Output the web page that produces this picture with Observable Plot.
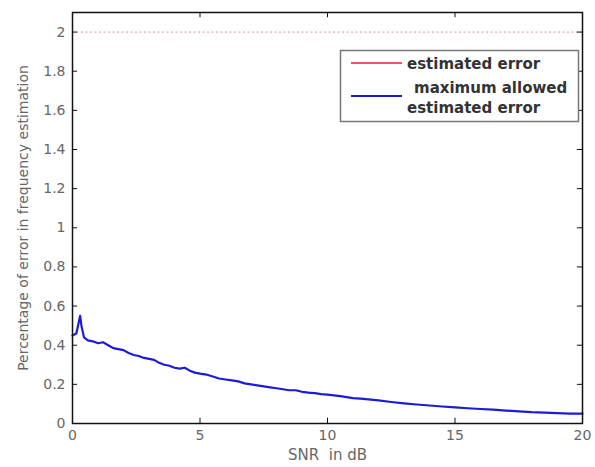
<!DOCTYPE html>
<html><head><meta charset="utf-8">
<script src="https://cdn.jsdelivr.net/npm/d3@7"></script>
<script src="https://cdn.jsdelivr.net/npm/@observablehq/plot@0.6"></script>
<style>body{margin:0;background:#fff}</style>
</head><body><div id="chart"></div>
<script>
const snr = [0,0.15,0.25,0.3,0.35,0.45,0.6,0.8,1.0,1.2,1.4,1.6,1.8,2.0,2.2,2.4,2.6,2.8,3.0,3.2,3.4,3.6,3.8,4.0,4.2,4.4,4.6,4.8,5.0,5.25,5.5,5.75,6.0,6.25,6.5,6.75,7.0,7.25,7.5,7.75,8.0,8.25,8.5,8.75,9.0,9.25,9.5,9.75,10.0,10.5,11.0,11.3,11.5,12.0,12.5,13.0,13.5,14.0,14.5,15.0,15.5,16.0,16.5,17.0,17.5,18.0,18.5,19.0,19.5,20.0];
const err = [0.45,0.46,0.52,0.55,0.50,0.44,0.425,0.42,0.41,0.415,0.40,0.385,0.38,0.375,0.36,0.35,0.345,0.335,0.33,0.325,0.31,0.30,0.295,0.285,0.28,0.285,0.27,0.26,0.255,0.25,0.24,0.23,0.225,0.22,0.215,0.205,0.20,0.195,0.19,0.185,0.18,0.175,0.17,0.17,0.162,0.158,0.155,0.15,0.148,0.14,0.13,0.127,0.125,0.118,0.11,0.103,0.097,0.092,0.087,0.082,0.078,0.074,0.071,0.066,0.062,0.058,0.056,0.053,0.05,0.05];
const maxAllowed = 2;
const xTicks = [0,5,10,15,20];
const yTicks = [0,0.2,0.4,0.6,0.8,1,1.2,1.4,1.6,1.8,2];
const xLabel = "SNR  in dB";
const yLabel = "Percentage of error in frequency estimation";
const legendLabels = ["estimated error", "maximum allowed", "estimated error"];

const data = snr.map((s,i)=>({snr:s, err:err[i]}));
const tickLenX = 0.2, tickLenY = 0.027;
const font = "DejaVu Sans, sans-serif";

const plot = Plot.plot({
  width: 595, height: 467,
  marginLeft: 72, marginRight: 13, marginTop: 12, marginBottom: 44,
  style: {fontFamily: font, fontSize: "14px", color: "#555", background: "#fff"},
  x: {domain: [0,20], axis: null},
  y: {domain: [0,2.1], axis: null},
  marks: [
    Plot.ruleY([maxAllowed], {stroke: "#e8707c", strokeWidth: 1, strokeDasharray: "2,2.5", strokeOpacity: 0.8}),
    Plot.line(data, {x: "snr", y: "err", stroke: "#1c1cd8", strokeWidth: 2.2}),
    Plot.ruleX(xTicks.slice(1,-1), {x: d=>d, y1: 0, y2: tickLenY, stroke: "#111"}),
    Plot.ruleX(xTicks.slice(1,-1), {x: d=>d, y1: 2.1, y2: 2.1-tickLenY, stroke: "#111"}),
    Plot.ruleY(yTicks.slice(1), {y: d=>d, x1: 0, x2: tickLenX, stroke: "#111"}),
    Plot.ruleY(yTicks.slice(1), {y: d=>d, x1: 20, x2: 20-tickLenX, stroke: "#111"}),
    Plot.frame({stroke: "#111", strokeWidth: 1.5}),
    Plot.axisX(xTicks, {tickSize: 0, tickPadding: 7, fontSize: 14, fill: "#666", label: null, tickFormat: d=>String(d)}),
    Plot.axisY(yTicks, {tickSize: 0, tickPadding: 7, fontSize: 14, fill: "#666", label: null, tickFormat: d=>String(d)}),
    Plot.text([xLabel], {frameAnchor: "bottom", dy: 36, fontSize: 15, fill: "#666", text: d=>d}),
    Plot.text([yLabel], {frameAnchor: "left", dx: -49, rotate: -90, textAnchor: "middle", fontSize: 14, fill: "#666", text: d=>d})
  ]
});
document.getElementById("chart").appendChild(plot);
d3.select(plot).selectAll("text").style("white-space", "pre");

// legend
const svg = d3.select(plot);
const g = svg.append("g").attr("font-family", font).attr("font-weight", "bold").attr("font-size", 15).attr("fill", "#333").attr("text-anchor", "start");
g.append("rect").attr("x", 340.5).attr("y", 50.5).attr("width", 238).attr("height", 71).attr("fill", "#fff").attr("stroke", "#777").attr("stroke-width", 1.5);
g.append("line").attr("x1", 351).attr("x2", 402).attr("y1", 63).attr("y2", 63).attr("stroke", "#e0203c").attr("stroke-width", 1.5);
g.append("line").attr("x1", 351).attr("x2", 402).attr("y1", 96).attr("y2", 96).attr("stroke", "#1c1cd8").attr("stroke-width", 2);
g.append("text").attr("x", 407).attr("y", 69).text(legendLabels[0]);
g.append("text").attr("x", 414).attr("y", 93).text(legendLabels[1]);
g.append("text").attr("x", 407).attr("y", 113).text(legendLabels[2]);
</script></body></html>
